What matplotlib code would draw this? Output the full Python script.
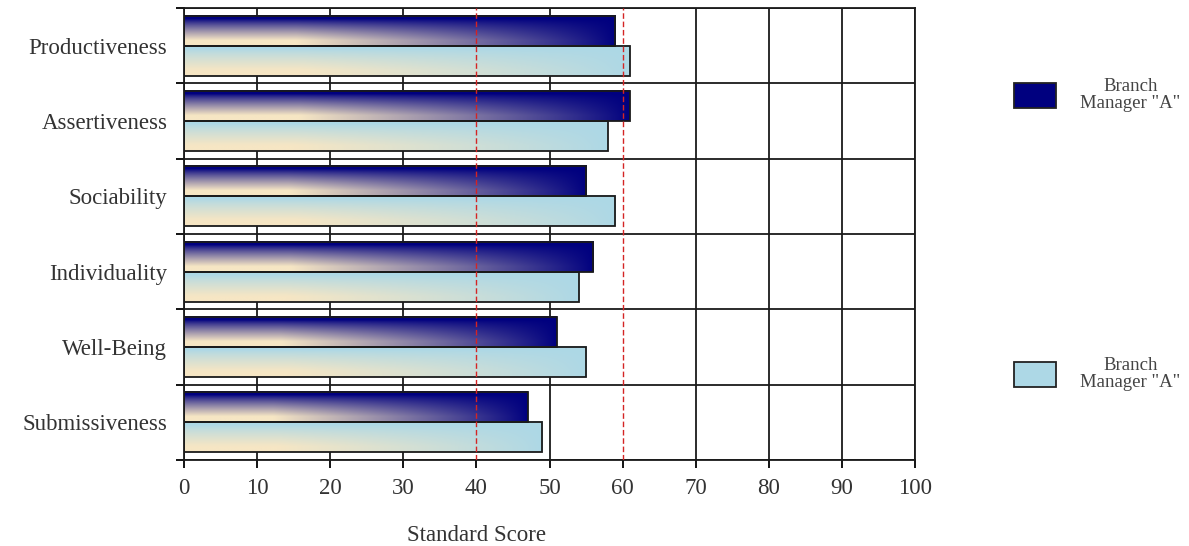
import numpy as np
import matplotlib
matplotlib.use("Agg")
import matplotlib.pyplot as plt
from matplotlib.colors import to_rgb
from matplotlib.patches import Patch

# scales on the chart, top to bottom
categories = ["Productiveness", "Assertiveness", "Sociability",
              "Individuality", "Well-Being", "Submissiveness"]
series_a = [59, 61, 55, 56, 51, 47]   # dark bars
series_b = [61, 58, 59, 54, 55, 49]   # light bars
series_labels = ['Branch\nManager "A"', 'Branch\nManager "A"']
ref_lines = [40, 60]
x_ticks = list(range(0, 101, 10))

dark = "#00007f"
light = "#add8e6"
beige = "#f6e6c4"
bar_h = 0.4

plt.rcParams["font.family"] = ["Liberation Serif", "DejaVu Serif"]

fig = plt.figure(figsize=(11.89, 5.46), dpi=100)
ax = fig.add_axes([184 / 1189, 86 / 546, 731 / 1189, 452 / 546])


def gradient(base, n=80, m=300):
    # beige in the lower-left corner, fading to the base colour upwards and rightwards
    yf = np.linspace(1, 0, n)[:, None]
    xf = np.linspace(0, 1, m)[None, :]
    tv = np.clip((0.88 - yf) / 0.7, 0, 1) ** 0.8
    th = np.clip(1.35 * (1 - xf), 0, 1) ** 0.9
    t = tv * th
    b = np.array(to_rgb(base))
    w = np.array(to_rgb(beige))
    return b * (1 - t[..., None]) + w * t[..., None]


img_dark = gradient(dark)
img_light = gradient(light)

ypos = np.arange(len(categories))
for i, (va, vb) in enumerate(zip(series_a, series_b)):
    ax.imshow(img_dark, extent=(0, va, i, i - bar_h), aspect="auto",
              origin="upper", zorder=2, interpolation="bilinear")
    ax.imshow(img_light, extent=(0, vb, i + bar_h, i), aspect="auto",
              origin="upper", zorder=2, interpolation="bilinear")

ax.barh(ypos - bar_h / 2, series_a, height=bar_h, facecolor="none",
        edgecolor="#1a1a1a", linewidth=1.3, zorder=3)
ax.barh(ypos + bar_h / 2, series_b, height=bar_h, facecolor="none",
        edgecolor="#1a1a1a", linewidth=1.3, zorder=3)

# vertical grid, except where the red reference lines sit
for xv in x_ticks:
    if xv not in ref_lines:
        ax.axvline(xv, color="#1a1a1a", linewidth=1.3, zorder=0.5)
for xv in ref_lines:
    ax.axvline(xv, color="#d42424", linestyle=(0, (4, 2)), linewidth=1.0,
               zorder=4)

ax.set_xlim(0, 100)
ax.set_ylim(len(categories) - 0.5, -0.5)
ax.set_xticks(x_ticks)
ax.set_yticks(np.arange(len(categories) + 1) - 0.5)
ax.set_yticklabels([])
ax.set_yticks(ypos, minor=True)
ax.set_yticklabels(categories, minor=True)
ax.tick_params(axis="y", which="minor", length=0, pad=12, labelsize=16.5,
               labelcolor="#333333")
ax.tick_params(axis="y", which="major", length=6, width=1.3, direction="out")
ax.tick_params(axis="x", length=6, width=1.3, pad=7, labelsize=16.5,
               labelcolor="#333333")
ax.grid(True, axis="y", which="major", color="#1a1a1a", linewidth=1.3,
        zorder=0)
ax.set_axisbelow(True)
for s in ax.spines.values():
    s.set_linewidth(1.3)
    s.set_color("#1a1a1a")

ax.set_xlabel("Standard Score", fontsize=16.5, color="#333333")
ax.xaxis.set_label_coords(0.40, -0.143)

# two separate legend entries on the right
for col, lab, yc in [(dark, series_labels[0], 1 - 95 / 546),
                     (light, series_labels[1], 1 - 374 / 546)]:
    leg = fig.legend(handles=[Patch(facecolor=col, edgecolor="#222222",
                                    linewidth=1.3, label=lab)],
                     loc="center left", bbox_to_anchor=(1014 / 1189, yc),
                     frameon=False, fontsize=13.5, handlelength=2.24,
                     handleheight=1.7, handletextpad=1.3, borderpad=0,
                     borderaxespad=0)
    for txt in leg.get_texts():
        txt.set_multialignment("center")
        txt.set_linespacing(1.0)
        txt.set_color("#444444")

fig.savefig("out.png", dpi=100)
